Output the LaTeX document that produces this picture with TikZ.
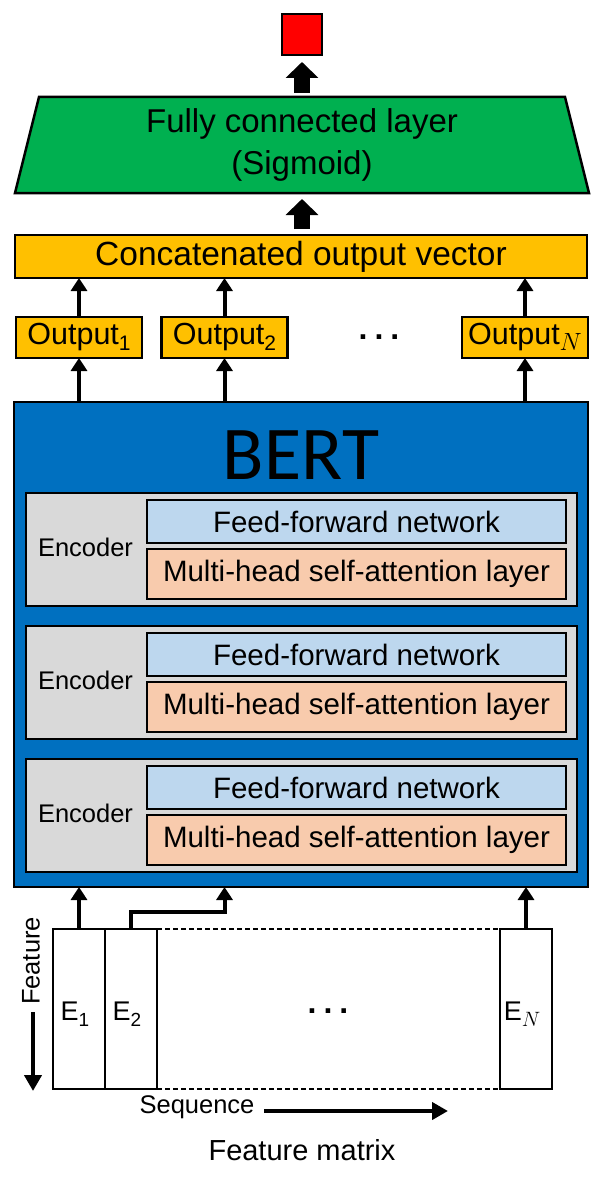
\documentclass[tikz,border=0pt]{standalone}
\usepackage{fontspec}
\setmainfont{Liberation Sans}
\newfontfamily\bertfont{Carlito}
\usetikzlibrary{arrows.meta,calc}
\definecolor{fcgreen}{HTML}{00B050}
\definecolor{outyellow}{HTML}{FFC000}
\definecolor{bertblue}{HTML}{0070C0}
\definecolor{encgray}{HTML}{D9D9D9}
\definecolor{ffblue}{HTML}{BDD7EE}
\definecolor{mhpeach}{HTML}{F8CBAD}
\newcommand\mysub[3]{\raisebox{-#2pt}{\fontsize{#1}{#1}\selectfont #3}}
\begin{document}
\begin{tikzpicture}[x=1pt,y=-1pt,
  every node/.style={inner sep=0pt, outer sep=0pt},
  ybox/.style={draw, line width=2.2pt, fill=outyellow, minimum height=41, minimum width=126, font=\fontsize{30.5}{34}\selectfont},
  encbox/.style={draw, line width=1.8pt, fill=encgray, minimum width=551, minimum height=113},
  ffbox/.style={draw, line width=1.5pt, fill=ffblue, minimum width=419, minimum height=43, font=\fontsize{29.5}{34}\selectfont},
  mhbox/.style={draw, line width=1.5pt, fill=mhpeach, minimum width=419, minimum height=50, font=\fontsize{29.5}{34}\selectfont},
  enclabel/.style={font=\fontsize{25.5}{30}\selectfont},
  ecol/.style={draw, line width=1.4pt, minimum width=52, minimum height=160, fill=white},
  elabel/.style={font=\fontsize{27}{30}\selectfont},
  thinarr/.style={line width=4pt, -{Triangle[width=16pt,length=13pt]}},
  blockarr/.style={line width=16pt, -{Triangle[width=32pt,length=16pt]}},
  axisarr/.style={line width=4.5pt, -{Triangle[width=17pt,length=16pt]}},
  dotsstyle/.style={font=\fontsize{32}{34}\selectfont\bfseries}
]
\useasboundingbox (0,0) rectangle (606,1180);

% top output square
\node[draw, line width=2.5pt, fill=red, minimum width=40, minimum height=41] (red) at (302,34.5) {};

% fully connected layer
\node[minimum width=526, minimum height=96] (fc) at (302,145) {};
\draw[line width=2.5pt, fill=fcgreen, line join=miter]
  (fc.north west) -- (fc.north east) -- ([xshift=24pt]fc.south east) -- ([xshift=-24pt]fc.south west) -- cycle;
\node[align=center, font=\fontsize{33}{42}\selectfont] (fctext) at (fc.center) {Fully connected layer\\(Sigmoid)};

% concatenated vector
\node[ybox, minimum width=572, minimum height=43, font=\fontsize{33.5}{36}\selectfont] (concat) at (301,256.5) {Concatenated output vector};

% outputs
\node[ybox] (out1) at (79,337.5) {Output\mysub{21}{6}{1}};
\node[ybox] (out2) at (224.5,337.5) {Output\mysub{21}{6}{2}};
\node[ybox] (outN) at (525,337.5) {Output\mysub{23}{6}{$N$}};
\node[dotsstyle] (odots) at (379,337) {.\hspace{7pt}.\hspace{7pt}.};

% BERT
\node[draw, line width=2.5pt, fill=bertblue, minimum width=574, minimum height=485] (bert) at (301,644.5) {};
\node[font=\fontsize{76}{80}\bertfont] (bertlabel) at (301,455) {BERT};

\foreach \i/\t in {1/493,2/626,3/759}{
  \node[encbox] (enc\i) at (301.5,\t+56.5) {};
  \node[ffbox] (ff\i) at (356.5,\t+28.5) {Feed-forward network};
  \node[mhbox] (mh\i) at (356.5,\t+81) {Multi-head self-attention layer};
  \node[enclabel] (el\i) at (85.5,\t+54) {Encoder};
}

% feature matrix
\node[ecol] (e1) at (79,1009) {};
\node[ecol] (e2) at (131,1009) {};
\node[ecol] (eN) at (526,1009) {};
\draw[line width=1.2pt, dash pattern=on 5pt off 3pt] (e2.north east) -- (eN.north west);
\draw[line width=1.2pt, dash pattern=on 5pt off 3pt] (e2.south east) -- (eN.south west);
\node[elabel] (l1) at (75,1014) {E\mysub{19}{6}{1}};
\node[elabel] (l2) at (127,1014) {E\mysub{19}{6}{2}};
\node[elabel] (lN) at (522,1014) {E\mysub{21}{6}{$N$}};
\node[dotsstyle] (mdots) at (328,1011) {.\hspace{7pt}.\hspace{7pt}.};

% arrows
\draw[blockarr, shorten <=6pt, shorten >=6pt] (fc.south |- concat.north) -- (fc.south);
\draw[blockarr, shorten <=4pt, shorten >=7pt] (fc.north) -- (red.south);

\foreach \o in {out1,out2,outN}{
  \draw[thinarr] (\o.north) -- (\o.north |- concat.south);
  \draw[thinarr] (\o.south |- bert.north) -- (\o.south);
}
\draw[thinarr] (e1.north) -- (e1.north |- bert.south);
\draw[thinarr] (eN.north) -- (eN.north |- bert.south);
\draw[thinarr] (e2.north) -- ++(0,-17) -| (out2.south |- bert.south);

% axes
\node[font=\fontsize{25.5}{30}\selectfont, rotate=90] (featlabel) at (31,961) {Feature};
\coordinate (fa1) at (33,1012);
\coordinate (fa2) at (33,1091);
\draw[axisarr] (fa1) -- (fa2);
\node[font=\fontsize{25.5}{30}\selectfont] (seqlabel) at (197,1107) {Sequence};
\coordinate (sa1) at (264,1111);
\coordinate (sa2) at (448,1111);
\draw[axisarr] (sa1) -- (sa2);
\node[font=\fontsize{29}{34}\selectfont] (fmlabel) at (302,1150) {Feature matrix};
\end{tikzpicture}
\end{document}
